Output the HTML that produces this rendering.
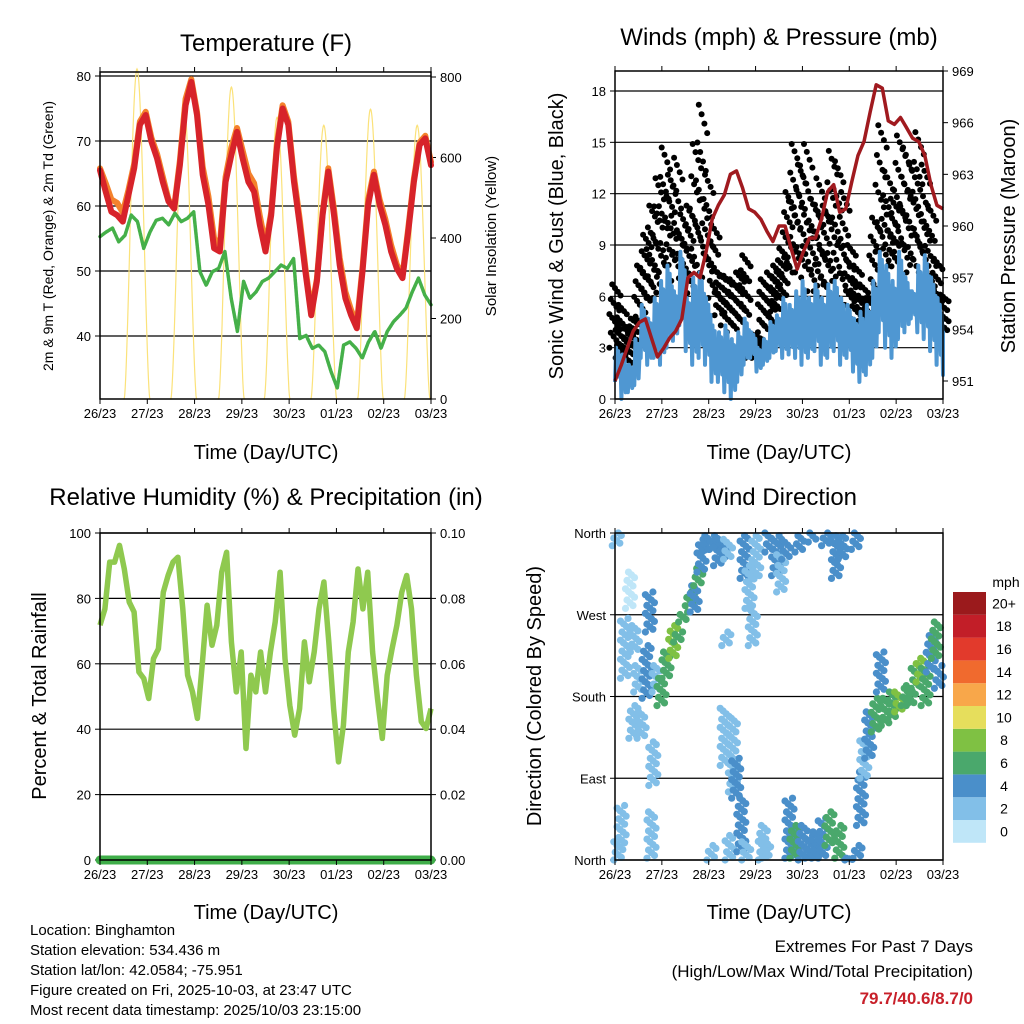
<!DOCTYPE html>
<html><head><meta charset="utf-8"><title>Station Meteogram</title>
<style>
html,body{margin:0;padding:0;background:#fff;}
svg{display:block;font-family:"Liberation Sans",Arial,sans-serif;}
</style></head>
<body>
<svg id="c" width="1024" height="1024" viewBox="0 0 1024 1024" xmlns="http://www.w3.org/2000/svg">
<rect width="1024" height="1024" fill="#fff"/>
<text x="266" y="51" font-size="24" text-anchor="middle">Temperature (F)</text>
<text x="779" y="45" font-size="24" text-anchor="middle">Winds (mph) &amp; Pressure (mb)</text>
<text x="266" y="505" font-size="24" text-anchor="middle">Relative Humidity (%) &amp; Precipitation (in)</text>
<text x="779" y="505" font-size="24" text-anchor="middle">Wind Direction</text>
<text x="266" y="459" font-size="20" text-anchor="middle">Time (Day/UTC)</text>
<text x="779" y="459" font-size="20" text-anchor="middle">Time (Day/UTC)</text>
<text x="266" y="919" font-size="20" text-anchor="middle">Time (Day/UTC)</text>
<text x="779" y="919" font-size="20" text-anchor="middle">Time (Day/UTC)</text>
<text transform="translate(53,236) rotate(-90)" font-size="14" text-anchor="middle">2m &amp; 9m T (Red, Orange) &amp; 2m Td (Green)</text>
<text transform="translate(496,236) rotate(-90)" font-size="15" text-anchor="middle">Solar Insolation (Yellow)</text>
<text transform="translate(563,236) rotate(-90)" font-size="20" text-anchor="middle">Sonic Wind &amp; Gust (Blue, Black)</text>
<text transform="translate(1015,236) rotate(-90)" font-size="20" text-anchor="middle">Station Pressure (Maroon)</text>
<text transform="translate(46,696) rotate(-90)" font-size="20" text-anchor="middle">Percent &amp; Total Rainfall</text>
<text transform="translate(541,696) rotate(-90)" font-size="20" text-anchor="middle">Direction (Colored By Speed)</text>
<g font-size="15">
<text x="30" y="935">Location: Binghamton</text>
<text x="30" y="955">Station elevation: 534.436 m</text>
<text x="30" y="975">Station lat/lon: 42.0584; -75.951</text>
<text x="30" y="995">Figure created on Fri, 2025-10-03, at 23:47 UTC</text>
<text x="30" y="1015">Most recent data timestamp: 2025/10/03 23:15:00</text>
</g>
<text x="973" y="952" font-size="17" text-anchor="end">Extremes For Past 7 Days</text>
<text x="973" y="977" font-size="17" text-anchor="end">(High/Low/Max Wind/Total Precipitation)</text>
<text x="973" y="1004" font-size="17" font-weight="bold" fill="#c8202a" text-anchor="end">79.7/40.6/8.7/0</text>
<g id="g"></g>
</svg>
<script>
const dayLabels=["26/23","27/23","28/23","29/23","30/23","01/23","02/23","03/23"];
const tempTicks=[40,50,60,70,80];
const solarTicks=[0,200,400,600,800];
const windTicks=[0,3,6,9,12,15,18];
const presTicks=[951,954,957,960,963,966,969];
const rhTicks=[0,20,40,60,80,100];
const rainTicks=["0.00","0.02","0.04","0.06","0.08","0.10"];
const dirTicks=["North","East","South","West","North"];
const tempRed=[65.5,62.2,59.1,58.6,57.6,61.7,65.8,72.5,74,69.9,67.3,63.7,60.7,59.6,66.3,75.5,79.1,74,64.8,60.2,53.5,53,63.7,67.8,71.4,67.3,63.7,62.2,57.1,53,58.6,68.9,75,72.5,63.7,57.1,49.9,43.2,48.4,58.6,65.3,58.6,50.9,45.8,43.2,41.2,49.9,60.2,64.8,60.2,57.1,53,50.4,48.9,56,63.7,69.4,70.4,66.3];
const tempOrange=[65.8,63.5,61,60.5,59,62.5,66.5,73,74.5,70.5,68,64.5,61,59.8,67,76.5,79.5,74.5,66,61.5,55,54,64.5,69,72,68.5,65,63.5,58.5,54,59,69.5,75.5,73,64.5,58,50.5,43.8,48.8,59,65.8,59.5,52,46.8,44,41.8,50.5,61,65.3,61,58,54,51,49.3,56.5,64.2,69.8,70.8,66.8];
const dewpoint=[55.3,56,56.6,54.5,55.5,58.6,57.6,53.5,56,57.8,58.1,57.1,58.9,57.6,58.1,59.1,49.9,47.8,49.9,50.4,53,45.8,40.7,48.4,45.8,46.8,48.4,48.9,49.9,50.9,50.4,51.9,39.6,40.1,38.1,38.6,37.6,34.5,32,38.6,39.1,38.1,36.6,39.1,40.7,38.1,40.7,42.2,43.2,44.3,46.8,48.9,46.3,44.8];
const solarPeakHour=[18.8,42.5,66.7,89.9,113.6,137.3,161];
const solarPeak=[820,740,775,700,680,720,680];
const pressure=[951,951.9,952.9,953.9,954.4,954.6,953.5,952.4,952.9,953.5,953.9,954.6,957,957.3,957,958.5,960.4,961.2,961.8,963,963.2,962.2,961,960.8,960.4,959.7,959.1,960,960,958.7,957.5,958.5,959.3,959.3,960.4,962,962.4,960.8,961,962.6,964.1,964.9,966.6,968.2,968,966.1,965.9,966.3,965.7,965.1,964.9,964.1,962.4,961.2,961];
const windHigh=[3,2.6,2,3.5,5.5,4.7,5.9,6.9,7.8,6.3,8.6,5.9,7.1,7.4,5.9,4.3,3.9,4.3,3.5,3.9,4.7,3.9,3,3.5,4.5,4.9,5.9,5.5,6.3,6.9,5.9,6.7,5.9,6.7,6.9,5.9,5.5,4.7,5.1,5.5,6.9,8.6,7.8,6.9,8.6,7.1,6.3,7.8,8.4,7.1,5.9,3.9];
const windLow=[1,0,0.4,0.8,2.4,2,2.4,2,3,3.4,4.3,2.8,2,2.4,2,1,1,0.4,0,1,2,2.4,1.6,2,2.4,2.8,2.4,2.6,2.4,2,2.4,2.8,2,2.4,2.8,2,2.4,1.6,1,1.4,2.4,3.9,3,2.4,3.5,3.9,4.7,3.9,3.5,2.8,2,1.4];
const gustHigh=[6.7,5.5,4.1,4.7,7.8,9.6,11.3,12.9,14.7,13.1,14.1,10.8,11.3,14.9,17.2,13.1,10.2,7.4,7.2,7,7.4,8.4,3.9,3.7,7,7.4,7.8,8.8,12.1,14.9,13.7,14.9,11.7,12.9,11.3,14.5,13.9,12.1,9,7.8,6.7,5.9,10.6,16,13.3,11.7,15.4,14.7,13.7,15.6,13.7,11.3,8.2,6.1];
const gustLow=[3,2.4,2,2.8,3.9,5.5,5.9,5.9,7.4,7.8,6.9,5.9,6.3,6.9,7.8,7.1,5.9,4.9,4.3,3.9,4.3,4.7,2.4,2.4,3.9,4.3,5.1,5.9,7.1,7.8,7.4,7.1,6.3,6.3,5.9,6.7,6.9,5.9,5.5,4.7,3.9,3.4,5.9,8.6,7.4,7.8,8.6,7.4,7.4,8.2,7.4,6.3,4.7,3.9];
const rh=[71.8,76.8,91.1,91.1,96.2,89,78.9,75.8,57.5,55.5,49.4,61.6,64.6,81.9,87,91.1,92.6,76.8,56.5,51.4,43.3,59.6,77.9,65.7,71.8,88,94.1,66.7,51.4,63.6,34.1,56.5,51.4,63.6,51.4,63.6,72.8,88,61.6,47.3,38.2,46.3,66.7,54.5,63.6,76.8,85,66.7,46.3,30,41.2,63.6,72.8,89,76.8,88,63.6,49.4,37.2,56.5,64.6,71.8,81.9,87,76.8,56.5,42.3,40.2,46.3];
const precip=[0,0,0,0,0,0,0,0];
const wdHour=[0.9,1.7,3.4,5.1,7.7,9.4,10.2,11.9,13.6,16.2,17.9,18.7,19.6,21.3,23.8,26.4,29.8,32.3,34.9,38.3,40.8,42.6,44.3,46.8,49.4,50.2,52.8,55.3,56.2,57,57.9,58.7,60.4,62.1,64.7,66.4,67.2,68.9,70.6,72.3,75.7,77.4,79.1,82.5,85.1,87.7,89.4,91.9,94.5,96.2,99.6,101.3,103,106.4,108.1,109.8,113.2,114.9,116.6,120,123.4,124.2,126,127.7,130.2,133.6,136.2,138.7,142.1,145.5,148.9,151.5,154,156.6,159.1,161.7,164.3,165.9];
const wdLow=[346,0,16,200,277,134,229,185,134,178,251,2,82,185,170,200,222,240,262,280,273,302,317,339,0,342,324,331,104,236,331,0,75,68,9,310,0,277,236,310,0,2,339,313,295,331,2,2,339,0,2,350,2,2,346,16,310,2,331,0,342,2,38,90,112,141,185,148,155,163,170,170,189,196,170,207,222,189];
const wdHigh=[360,20,60,266,317,170,258,214,163,236,295,53,130,214,200,229,258,251,273,295,302,321,353,357,16,357,353,353,167,251,353,27,156,112,68,357,20,324,277,357,38,24,360,357,339,353,68,38,357,38,27,360,31,46,360,53,357,38,357,2,360,16,97,134,163,178,229,178,185,185,189,192,214,222,214,247,262,214];
const wdSpeed=[1,1,2,2,0,2,2,2,2,4,4,2,2,2,6,6,8,6,6,6,4,6,4,4,2,4,4,4,2,1,2,2,2,4,4,4,2,2,2,2,2,1,4,4,2,4,4,6,4,4,4,4,4,4,4,6,4,6,4,4,4,4,4,2,4,6,4,6,6,8,6,6,6,8,6,4,6,4];
const cbLabels=["0","2","4","6","8","10","12","14","16","18","20+"];
const cbColors=["#bfe6f8","#82bfe8","#4a8fca","#4aa86c","#7fc143","#e6de5c","#f8a74a","#f06a2e","#e23a2c","#c21e28","#9b1a1c"];

const NS="http://www.w3.org/2000/svg";
const G=document.getElementById('g');
function mk(tag,attrs,parent){const e=document.createElementNS(NS,tag);for(const k in attrs)e.setAttribute(k,attrs[k]);(parent||G).appendChild(e);return e;}
function txt(x,y,s,size,anchor,parent){const t=mk('text',{x:x,y:y,'font-size':size,'text-anchor':anchor},parent);t.textContent=s;return t;}
function spdColor(s){let i=Math.round(s/2);if(i<0)i=0;if(i>10)i=10;return cbColors[i];}

const P={
 temp:{x0:100,x1:431,y0:72,y1:399},
 wind:{x0:615,x1:943,y0:71,y1:399},
 rh:{x0:100,x1:431,y0:533,y1:860},
 dir:{x0:615,x1:943,y0:533,y1:860}
};
function xs(p){return h=>p.x0+(p.x1-p.x0)*h/168;}
function lin(d0,d1,r0,r1){return v=>r0+(v-d0)*(r1-r0)/(d1-d0);}
function idxHour(i,n){return 168*i/(n-1);}

function frameAndXAxis(p,name){
 const x=xs(p);
 const gx=mk('g',{});
 
 
 dayLabels.forEach((d,i)=>{
  const px=x(i*24);
  mk('line',{x1:px,x2:px,y1:p.y1,y2:p.y1+5,stroke:'#000','stroke-width':1},gx);
  mk('line',{x1:px,x2:px,y1:p.y0,y2:p.y0-5,stroke:'#000','stroke-width':1},gx);
  const t=txt(px,p.y1+19,d,13,'middle',gx);
  
  
 });
}
function frame(p,name){
 const r=mk('rect',{x:p.x0,y:p.y0,width:p.x1-p.x0,height:p.y1-p.y0,fill:'none',stroke:'#000','stroke-width':1.5});
 
 
}
function yAxis(p,ticks,labels,sc,side,grid,name){
 const g=mk('g',{});
 
 
 ticks.forEach((v,i)=>{
  const py=sc(v);
  if(side==='left'){
   mk('line',{x1:p.x0-5,x2:p.x0,y1:py,y2:py,stroke:'#000','stroke-width':1},g);
   txt(p.x0-9,py+5,labels[i],13,'end',g);
   if(grid) mk('line',{x1:p.x0,x2:p.x1,y1:py,y2:py,stroke:'#000','stroke-width':1.2},g);
  } else {
   mk('line',{x1:p.x1,x2:p.x1+5,y1:py,y2:py,stroke:'#000','stroke-width':1},g);
   txt(p.x1+9,py+5,labels[i],13,'start',g);
  }
 });
}

// ===== Temperature panel =====
(function(){
 const p=P.temp,x=xs(p);
 const yT=lin(80,40,76,336), yS=lin(0,800,399,77);
 yAxis(p,tempTicks,tempTicks.map(String),yT,'left',true,'temp-y-axis');
 yAxis(p,solarTicks,solarTicks.map(String),yS,'right',false,'solar-y-axis');
 const sg=mk('g',{});
 
 
 solarPeakHour.forEach((ph,i)=>{
  let d='';
  for(let k=-7;k<=7;k+=0.25){
   const h=ph+k; if(h<0||h>168) continue;
   const f=Math.abs(k)<6.5?Math.pow(Math.cos(k/6.5*Math.PI/2),1.6):0;
   d+=(d?'L':'M')+x(h).toFixed(1)+','+yS(solarPeak[i]*f).toFixed(1);
  }
  const pth=mk('path',{d:d,fill:'none',stroke:'#fbe27a','stroke-width':1.2},sg);
  
  
 });
 function line(arr,color,w,name,dash){
  let d='';arr.forEach((v,i)=>{d+=(i?'L':'M')+x(idxHour(i,arr.length)).toFixed(1)+','+yT(v).toFixed(1);});
  const a={d:d,fill:'none',stroke:color,'stroke-width':w,'stroke-linejoin':'round','stroke-linecap':'round'};
  if(dash)a['stroke-dasharray']=dash;
  const e=mk('path',a);
  
  
 }
 line(dewpoint,'#45b049',3.5,'dewpoint-series','2.5 1.2');
 line(tempOrange,'#f4822c',6,'temp-9m-series');
 line(tempRed,'#d7232a',6,'temp-2m-series');
 frame(p,'temp');
 frameAndXAxis(p,'temp');
})();

// ===== Wind panel =====
(function(){
 const p=P.wind,x=xs(p);
 const yW=lin(0,18,399,91), yP=lin(951,969,381,71);
 yAxis(p,windTicks,windTicks.map(String),yW,'left',true,'wind-y-axis');
 yAxis(p,presTicks,presTicks.map(String),yP,'right',false,'pressure-y-axis');
 const gg=mk('g',{});
 
 
 const n=gustHigh.length;
 gustHigh.forEach((hi,i)=>{
  const lo=gustLow[i],hx=x(idxHour(i,n));
  for(let k=0;k<18;k++){
   const f=k/17,v=lo+(hi-lo)*f;
   const ox=((k*7)%9-4)*1.4;
   const c=mk('circle',{cx:(hx+ox).toFixed(1),cy:yW(v).toFixed(1),r:3,fill:'#000'},gg);
   
   
  }
 });
 let d='';const m=windHigh.length;
 windHigh.forEach((hi,i)=>{
  const lo=windLow[i],h=idxHour(i,m),st=168/(m-1)/6;
  [lo,hi,lo+(hi-lo)*0.25,hi-(hi-lo)*0.1,lo+(hi-lo)*0.15,hi-(hi-lo)*0.25].forEach((v,j)=>{
   const hh=Math.min(168,h+j*st);
   d+=(d?'L':'M')+x(hh).toFixed(1)+','+yW(v).toFixed(1);
  });
 });
 const wl=mk('path',{d:d,fill:'none',stroke:'#4f97d2','stroke-width':4,'stroke-linejoin':'round'});
 
 
 let dp='';pressure.forEach((v,i)=>{dp+=(i?'L':'M')+x(idxHour(i,pressure.length)).toFixed(1)+','+yP(v).toFixed(1);});
 const pl=mk('path',{d:dp,fill:'none',stroke:'#a01a1f','stroke-width':3.5,'stroke-linejoin':'round'});
 
 
 frame(p,'wind');
 frameAndXAxis(p,'wind');
})();

// ===== RH panel =====
(function(){
 const p=P.rh,x=xs(p);
 const yR=lin(0,100,860,533);
 yAxis(p,rhTicks,rhTicks.map(String),yR,'left',true,'rh-y-axis');
 yAxis(p,rhTicks,rainTicks,yR,'right',false,'rain-y-axis');
 let d='';rh.forEach((v,i)=>{d+=(i?'L':'M')+x(idxHour(i,rh.length)).toFixed(1)+','+yR(v).toFixed(1);});
 const l=mk('path',{d:d,fill:'none',stroke:'#8fc94f','stroke-width':5.5,'stroke-linejoin':'round'});
 
 
 const yRain=lin(0,0.1,860,533);
 let dr='';precip.forEach((v,i)=>{dr+=(i?'L':'M')+x(i*24).toFixed(1)+','+yRain(v).toFixed(1);});
 const r=mk('path',{d:dr,fill:'none',stroke:'#3fae49','stroke-width':9,'stroke-linecap':'round'});
 
 
 frame(p,'rh');
 frameAndXAxis(p,'rh');
})();

// ===== Direction panel =====
(function(){
 const p=P.dir,x=xs(p);
 const yD=lin(0,360,860,533);
 yAxis(p,[0,90,180,270,360],dirTicks,yD,'left',true,'dir-y-axis');
 const g=mk('g',{});
 
 
 wdHour.forEach((h,i)=>{
  const lo=wdLow[i],hi=wdHigh[i],col=spdColor(wdSpeed[i]);
  const n=Math.max(3,Math.round((hi-lo)/3));
  for(let k=0;k<=n;k++){
   const v=lo+(hi-lo)*k/n;
   const ox=((k*5)%7-3)*1.5;
   const c=mk('circle',{cx:(x(h)+ox).toFixed(1),cy:yD(v).toFixed(1),r:3.6,fill:col},g);
   
   
  }
 });
 frame(p,'dir');
 frameAndXAxis(p,'dir');
 const cb=mk('g',{});
 
 
 txt(1006,587,'mph',14,'middle',cb);
 const top=592,bh=22.8;
 cbColors.forEach((c,i)=>{
  const yy=top+(10-i)*bh;
  const r=mk('rect',{x:953,y:yy,width:33,height:bh,fill:c},cb);
  
  
  txt(1004,yy+bh/2+5,cbLabels[i],14,'middle',cb);
 });
})();
</script>
</body></html>
